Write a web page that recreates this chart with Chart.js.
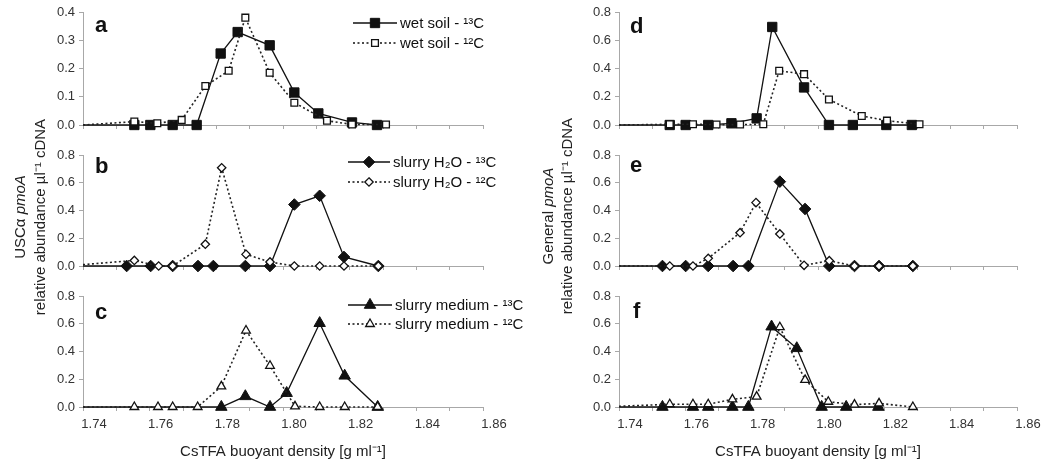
<!DOCTYPE html>
<html><head><meta charset="utf-8">
<script src="https://cdn.jsdelivr.net/npm/chart.js"></script>
<style>
html,body{margin:0;padding:0;background:#fff;}
#wrap{position:relative;width:1052px;height:463px;overflow:hidden;font-family:"Liberation Sans",Arial,sans-serif;}
.pane{position:absolute;}
.pane canvas{display:block;}
.ytitle{position:absolute;width:320px;height:20px;line-height:20px;text-align:center;font-size:15px;color:#222;transform:rotate(-90deg);white-space:nowrap;}
</style></head>
<body><div id="wrap">
<div class="pane" style="left:0;top:0"><canvas id="ca" width="530" height="140"></canvas></div>
<div class="pane" style="left:0;top:140px"><canvas id="cb" width="530" height="140"></canvas></div>
<div class="pane" style="left:0;top:280px"><canvas id="cc" width="530" height="183"></canvas></div>
<div class="pane" style="left:520px;top:0"><canvas id="cd" width="532" height="140"></canvas></div>
<div class="pane" style="left:520px;top:140px"><canvas id="ce" width="532" height="140"></canvas></div>
<div class="pane" style="left:520px;top:280px"><canvas id="cf" width="532" height="183"></canvas></div>
<div class="ytitle" style="left:-140px;top:207px">USCα <i>pmoA</i></div>
<div class="ytitle" style="left:-120px;top:207px">relative abundance µl⁻¹ cDNA</div>
<div class="ytitle" style="left:388px;top:206px">General <i>pmoA</i></div>
<div class="ytitle" style="left:407px;top:206px">relative abundance µl⁻¹ cDNA</div>
</div>
<script>
// ---- data (x = CsTFA buoyant density, y = relative abundance) ----
const aX13 = [1.74, 1.7554, 1.7602, 1.7669, 1.7741, 1.7813, 1.7864, 1.7960, 1.8034, 1.8106, 1.8207, 1.8282];
const aY13 = [0, 0, 0, 0, 0, 0.253, 0.329, 0.282, 0.115, 0.041, 0.009, 0];
const aX12 = [1.74, 1.7554, 1.7623, 1.7696, 1.7767, 1.7837, 1.7887, 1.7960, 1.8034, 1.8132, 1.8207, 1.8309];
const aY12 = [0, 0.012, 0.006, 0.018, 0.138, 0.192, 0.38, 0.185, 0.079, 0.015, 0.002, 0.002];

const bX13 = [1.74, 1.7531, 1.7603, 1.7669, 1.7745, 1.7791, 1.7887, 1.7961, 1.8034, 1.8110, 1.8183, 1.8286];
const bY13 = [0, 0, 0, 0, 0, 0, 0, 0, 0.443, 0.506, 0.065, 0];
const bX12 = [1.74, 1.7554, 1.7627, 1.7669, 1.7767, 1.7816, 1.7889, 1.7961, 1.8034, 1.8110, 1.8183, 1.8286];
const bY12 = [0.01, 0.04, 0, 0, 0.157, 0.708, 0.084, 0.029, 0, 0, 0, 0];

const cX13 = [1.74, 1.7815, 1.7887, 1.7961, 1.8011, 1.8110, 1.8185, 1.8284];
const cY13 = [0, 0, 0.077, 0, 0.10, 0.604, 0.225, 0];
const cX12 = [1.74, 1.7554, 1.7625, 1.7669, 1.7744, 1.7815, 1.7889, 1.7961, 1.8036, 1.8110, 1.8185, 1.8284];
const cY12 = [0, 0, 0, 0, 0, 0.149, 0.551, 0.297, 0.005, 0, 0, 0];

const dX13 = [1.74, 1.7553, 1.7601, 1.7669, 1.7739, 1.7815, 1.7862, 1.7958, 1.8033, 1.8105, 1.8206, 1.8283];
const dY13 = [0, 0, 0, 0, 0.012, 0.047, 0.694, 0.266, 0, 0, 0, 0];
const dX12 = [1.74, 1.7553, 1.7623, 1.7694, 1.7765, 1.7835, 1.7883, 1.7958, 1.8033, 1.8132, 1.8208, 1.8306];
const dY12 = [0, 0.005, 0.005, 0.003, 0.003, 0.005, 0.384, 0.36, 0.181, 0.064, 0.031, 0.005];

const eX13 = [1.74, 1.7531, 1.7601, 1.7669, 1.7744, 1.7790, 1.7885, 1.7961, 1.8034, 1.8110, 1.8184, 1.8286];
const eY13 = [0, 0, 0, 0, 0, 0, 0.608, 0.411, 0, 0, 0, 0];
const eX12 = [1.74, 1.7553, 1.7623, 1.7669, 1.7765, 1.7813, 1.7885, 1.7958, 1.8034, 1.8110, 1.8184, 1.8286];
const eY12 = [0, 0, 0, 0.055, 0.24, 0.457, 0.231, 0.005, 0.038, 0, 0, 0];

const fX13 = [1.74, 1.7531, 1.7623, 1.7669, 1.7742, 1.7790, 1.7860, 1.7936, 1.8011, 1.8085, 1.8182];
const fY13 = [0, 0, 0, 0, 0, 0, 0.579, 0.423, 0, 0, 0];
const fX12 = [1.74, 1.7553, 1.7623, 1.7669, 1.7742, 1.7815, 1.7885, 1.7961, 1.8031, 1.8110, 1.8184, 1.8286];
const fY12 = [0.005, 0.02, 0.02, 0.02, 0.055, 0.075, 0.575, 0.195, 0.038, 0.017, 0.026, 0];

const xTickValues = [1.74, 1.76, 1.78, 1.80, 1.82, 1.84, 1.86];
const xTitle = 'CsTFA buoyant density [g ml⁻¹]';
const labelsWet = ['wet soil - ¹³C', 'wet soil - ¹²C'];
const labelsH2O = ['slurry H₂O - ¹³C', 'slurry H₂O - ¹²C'];
const labelsMed = ['slurry medium - ¹³C', 'slurry medium - ¹²C'];

const FONT = '"Liberation Sans", Arial, sans-serif';
const zip = (xs, ys) => xs.map((x, i) => ({x: x, y: ys[i]}));

function markerPath(ctx, style, x, y, r) {
  ctx.beginPath();
  if (style === 'rect') {
    const s = r * Math.SQRT1_2;
    ctx.rect(x - s, y - s, 2 * s, 2 * s);
  } else if (style === 'rectRot') {
    ctx.moveTo(x, y - r); ctx.lineTo(x + r, y); ctx.lineTo(x, y + r); ctx.lineTo(x - r, y); ctx.closePath();
  } else {
    const w = r * Math.sqrt(3) / 2;
    ctx.moveTo(x, y - r); ctx.lineTo(x + w, y + r / 2); ctx.lineTo(x - w, y + r / 2); ctx.closePath();
  }
}

const inlineLegend = {
  id: 'inlineLegend',
  afterDatasetsDraw(chart, args, o) {
    const ctx = chart.ctx;
    ctx.save();
    if (o.letter) {
      ctx.font = 'bold 22px ' + FONT;
      ctx.fillStyle = '#111';
      ctx.textBaseline = 'alphabetic';
      ctx.fillText(o.letter, o.letterX, o.letterY);
    }
    if (o.show) {
      chart.data.datasets.forEach((ds, i) => {
        const y = o.y + i * o.gap;
        ctx.strokeStyle = '#111';
        ctx.lineWidth = ds.borderWidth;
        ctx.setLineDash(ds.borderDash || []);
        ctx.beginPath(); ctx.moveTo(o.x0, y); ctx.lineTo(o.x1, y); ctx.stroke();
        ctx.setLineDash([]);
        const cx = (o.x0 + o.x1) / 2;
        markerPath(ctx, ds.pointStyle, cx, y, ds._legendR);
        ctx.fillStyle = ds.pointBackgroundColor;
        ctx.fill();
        ctx.lineWidth = ds.pointBorderWidth;
        ctx.strokeStyle = '#111';
        ctx.stroke();
        ctx.fillStyle = '#111';
        ctx.font = '15px ' + FONT;
        ctx.textBaseline = 'middle';
        ctx.fillText(ds.label, o.x1 + 3, y + 1);
      });
    }
    ctx.restore();
  }
};

function makePanel(id, p) {
  const ds13 = {
    label: p.labels ? p.labels[0] : '13C',
    data: zip(p.x13, p.y13),
    borderColor: '#111', borderWidth: 1.3,
    pointStyle: p.shape,
    pointRadius: c => c.dataIndex === 0 ? 0 : p.r13,
    pointBackgroundColor: '#111', pointBorderColor: '#111', pointBorderWidth: 1,
    order: 1, clip: false, tension: 0, fill: false, _legendR: p.r13
  };
  const ds12 = {
    label: p.labels ? p.labels[1] : '12C',
    data: zip(p.x12, p.y12),
    borderColor: '#222', borderWidth: 1.6, borderDash: [2, 2.5],
    pointStyle: p.shape,
    pointRadius: c => c.dataIndex === 0 ? 0 : p.r12,
    pointBackgroundColor: '#fff', pointBorderColor: '#111', pointBorderWidth: 1.3,
    order: 0, clip: false, tension: 0, fill: false, _legendR: p.r12
  };
  new Chart(document.getElementById(id), {
    type: 'line',
    data: {datasets: [ds13, ds12]},
    plugins: [inlineLegend],
    options: {
      responsive: false, animation: false, devicePixelRatio: 1, events: [],
      layout: {padding: {left: 0, right: p.padR, top: p.padT, bottom: 0}},
      plugins: {
        legend: {display: false}, tooltip: {enabled: false},
        inlineLegend: p.legend
      },
      scales: {
        x: {
          type: 'linear', min: 1.74, max: 1.86,
          afterFit: s => { s.height = p.xH; },
          ticks: {
            display: p.showX, stepSize: 0.01, autoSkip: false, maxRotation: 0, minRotation: 0,
            padding: 6, labelOffset: 11, color: '#333', font: {size: 13, family: FONT},
            callback: v => {
              const hit = xTickValues.find(t => Math.abs(t - v) < 1e-6);
              return hit !== undefined ? hit.toFixed(2) : '';
            }
          },
          grid: {drawOnChartArea: false, drawTicks: true, tickLength: 4, color: '#a8a8a8'},
          border: {color: '#a8a8a8', width: 1},
          title: {display: p.showX, text: xTitle, color: '#222', font: {size: 15, family: FONT}, padding: {top: 0, bottom: 2}}
        },
        y: {
          min: 0, max: p.yMax,
          afterFit: s => { s.width = p.yW; },
          ticks: {stepSize: p.yStep, padding: 4, color: '#333', font: {size: 13, family: FONT}, callback: v => Number(v).toFixed(1)},
          grid: {drawOnChartArea: false, drawTicks: true, tickLength: 4, color: '#a8a8a8'},
          border: {color: '#a8a8a8', width: 1}
        }
      }
    }
  });
}

const L = {yW: 83, padR: 47};
const R = {yW: 99, padR: 35};

makePanel('ca', Object.assign({}, L, {x13: aX13, y13: aY13, x12: aX12, y12: aY12, shape: 'rect', r13: 6.6, r12: 4.8,
  yMax: 0.4, yStep: 0.1, padT: 12, xH: 15, showX: false, labels: labelsWet,
  legend: {show: true, x0: 353, x1: 397, y: 23, gap: 20, letter: 'a', letterX: 95, letterY: 32}}));
makePanel('cb', Object.assign({}, L, {x13: bX13, y13: bY13, x12: bX12, y12: bY12, shape: 'rectRot', r13: 5.8, r12: 4.2,
  yMax: 0.8, yStep: 0.2, padT: 15, xH: 14, showX: false, labels: labelsH2O,
  legend: {show: true, x0: 348, x1: 390, y: 22, gap: 20, letter: 'b', letterX: 95, letterY: 33}}));
makePanel('cc', Object.assign({}, L, {x13: cX13, y13: cY13, x12: cX12, y12: cY12, shape: 'triangle', r13: 6.6, r12: 5,
  yMax: 0.8, yStep: 0.2, padT: 16, xH: 56, showX: true, labels: labelsMed,
  legend: {show: true, x0: 348, x1: 392, y: 25, gap: 19, letter: 'c', letterX: 95, letterY: 39}}));
makePanel('cd', Object.assign({}, R, {x13: dX13, y13: dY13, x12: dX12, y12: dY12, shape: 'rect', r13: 6.6, r12: 4.8,
  yMax: 0.8, yStep: 0.2, padT: 12, xH: 15, showX: false,
  legend: {show: false, letter: 'd', letterX: 110, letterY: 33}}));
makePanel('ce', Object.assign({}, R, {x13: eX13, y13: eY13, x12: eX12, y12: eY12, shape: 'rectRot', r13: 5.8, r12: 4.2,
  yMax: 0.8, yStep: 0.2, padT: 15, xH: 14, showX: false,
  legend: {show: false, letter: 'e', letterX: 110, letterY: 32}}));
makePanel('cf', Object.assign({}, R, {x13: fX13, y13: fY13, x12: fX12, y12: fY12, shape: 'triangle', r13: 6.6, r12: 5,
  yMax: 0.8, yStep: 0.2, padT: 16, xH: 56, showX: true,
  legend: {show: false, letter: 'f', letterX: 113, letterY: 38}}));
</script>
</body></html>
